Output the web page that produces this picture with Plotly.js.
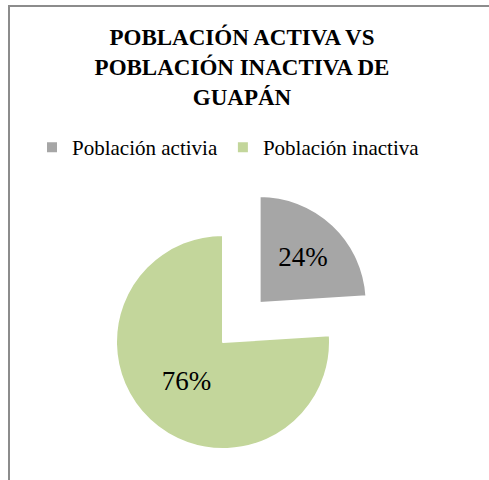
<!DOCTYPE html>
<html>
<head>
<meta charset="utf-8">
<script src="https://cdn.plot.ly/plotly-3.0.1.min.js"></script>
<style>
html,body{margin:0;padding:0;width:489px;height:480px;overflow:hidden;background:#fff;}
#chart{position:absolute;left:0;top:0;width:489px;height:540px;}
#chart svg text{font-family:'Liberation Serif', serif !important;}
#frame{position:absolute;left:8px;top:5px;width:600px;height:600px;border-left:2px solid #8c8c8c;border-top:2px solid #8c8c8c;pointer-events:none;}
#preload{position:absolute;left:0;top:0;font-family:'Liberation Serif';color:#ffffff;font-size:10px;opacity:0.01;}
#preload b{font-weight:bold;}
</style>
</head>
<body>
<div id="preload">Población <b>POBLACIÓN</b> 24%</div>
<div id="chart"></div>
<div id="frame"></div>
<script>
const categories = ["Población activia", "Población inactiva"];
const values = [24, 76];
const sliceColors = ["#a6a6a6", "#c3d69b"];
const titleText = "POBLACIÓN ACTIVA VS<br>POBLACIÓN INACTIVA DE<br>GUAPÁN";

const W = 489, H = 540;
const serif = "Liberation Serif";
const trace = {
  type: "pie",
  labels: categories,
  values: values,
  sort: false,
  direction: "clockwise",
  rotation: 0,
  pull: [0.5, 0],
  marker: {colors: sliceColors, line: {color: "#ffffff", width: 2}},
  textinfo: "percent",
  texttemplate: "%{percent:.0%}",
  textposition: "inside",
  insidetextorientation: "horizontal",
  insidetextfont: {family: serif, size: 27, color: "#000000"},
  hoverinfo: "none",
  domain: {x: [62.5 / W, 383.5 / W], y: [1 - 502.5 / H, 1 - 181.5 / H]}
};

const layout = {
  width: W,
  height: H,
  margin: {l: 0, r: 0, t: 0, b: 0},
  paper_bgcolor: "#ffffff",
  plot_bgcolor: "#ffffff",
  title: {
    text: titleText,
    font: {family: serif, size: 23, color: "#000000", weight: "bold"},
    x: 242 / W,
    xanchor: "center",
    xref: "paper",
    y: 1 - 45 / H,
    yref: "container",
    yanchor: "top"
  },
  showlegend: true,
  legend: {
    orientation: "h",
    x: 32 / W,
    xanchor: "left",
    y: 1 - 127 / H,
    yanchor: "top",
    itemgap: 40,
    font: {family: serif, size: 21, color: "#000000"}
  }
};

const gd = document.getElementById("chart");
Plotly.newPlot(gd, [trace], layout, {staticPlot: true, displayModeBar: false}).then(function () {
  const ready = (document.fonts && document.fonts.ready) ? document.fonts.ready : Promise.resolve();
  return ready.then(function () {
    return Plotly.react(gd, [trace], layout, {staticPlot: true, displayModeBar: false});
  });
}).then(function () {
  document.getElementById("preload").textContent = "Población";
});
</script>
</body>
</html>
